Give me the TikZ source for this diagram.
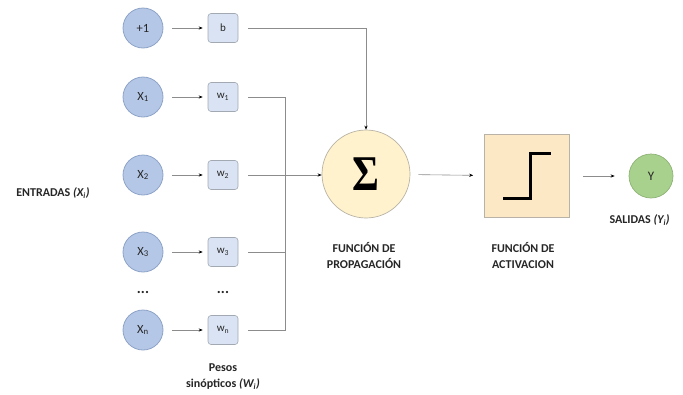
\documentclass[tikz,border=0pt]{standalone}
\usepackage{fontspec}
\setmainfont{Carlito}
\newfontfamily\sigmafont{Liberation Serif}
\usetikzlibrary{arrows.meta}
\definecolor{inblue}{HTML}{B4C7E7}
\definecolor{inedge}{HTML}{8EA3C8}
\definecolor{wfill}{HTML}{DAE3F3}
\definecolor{wedge}{HTML}{A3A9B3}
\definecolor{sumfill}{HTML}{FFF2CC}
\definecolor{actfill}{HTML}{FCE8C4}
\definecolor{warmedge}{HTML}{B8B3A6}
\definecolor{outgreen}{HTML}{A9D18E}
\definecolor{outedge}{HTML}{8CB274}
\definecolor{wire}{HTML}{8C8C8C}
\definecolor{ink}{HTML}{262626}
\tikzset{
  input/.style={circle, draw=inedge, fill=inblue, line width=0.8pt, minimum size=40pt, inner sep=0pt, text=ink, font=\fontsize{12.5}{14}\selectfont},
  weight/.style={rounded corners=3pt, draw=wedge, fill=wfill, line width=0.6pt, minimum width=30pt, minimum height=29pt, inner sep=0pt, text=ink, font=\fontsize{11}{13}\selectfont},
  sumnode/.style={circle, draw=warmedge, fill=sumfill, line width=0.7pt, minimum size=88pt, inner sep=0pt},
  actbox/.style={draw=warmedge, fill=actfill, line width=0.6pt, minimum width=85pt, minimum height=83pt, inner sep=0pt},
  outnode/.style={circle, draw=outedge, fill=outgreen, line width=0.7pt, minimum size=44pt, inner sep=0pt, text=ink, font=\fontsize{13}{15}\selectfont},
  wire/.style={draw=wire, line width=0.6pt},
  arr/.style={wire, -{Stealth[length=4pt, width=3.2pt, black]}},
  stepline/.style={draw=black, line width=3pt},
  lbl/.style={text=ink, font=\bfseries\fontsize{12}{16}\selectfont, align=center},
  dotslbl/.style={text=ink, font=\bfseries\fontsize{15}{15}\selectfont}
}

\begin{document}
\begin{tikzpicture}[x=1pt, y=-1pt]
  \useasboundingbox (0,0) rectangle (683,394);

  % inputs and weights
  \node[input] (one) at (143,28) {+1};
  \node[input] (x1) at (143,97) {X\textsubscript{1}};
  \node[input] (x2) at (143,175) {X\textsubscript{2}};
  \node[input] (x3) at (143,252) {X\textsubscript{3}};
  \node[input] (xn) at (143,330) {X\textsubscript{n}};

  \node[weight] (b) at (223,28) {b};
  \node[weight] (w1) at (223,97) {w\textsubscript{1}};
  \node[weight] (w2) at (223,175) {w\textsubscript{2}};
  \node[weight] (w3) at (223,252) {w\textsubscript{3}};
  \node[weight] (wn) at (223,330) {w\textsubscript{n}};

  \node[dotslbl] (xdots) at (143,292) {...};
  \node[dotslbl] (wdots) at (223,292) {...};

  % summing and activation
  \node[sumnode] (sum) at (366,174) {\sigmafont\bfseries\fontsize{50}{50}\selectfont\scalebox{0.82}[1]{Σ}};
  \node[actbox] (act) at (527,176) {};
  \draw[stepline] (503,198) -| (530,153) -- (551,153);
  \node[outnode] (y) at (651,176) {Y};

  % connectors
  \draw[arr, shorten <=9pt, shorten >=5pt] (one) -- (b);
  \draw[arr, shorten <=9pt, shorten >=5pt] (x1) -- (w1);
  \draw[arr, shorten <=9pt, shorten >=5pt] (x2) -- (w2);
  \draw[arr, shorten <=9pt, shorten >=5pt] (x3) -- (w3);
  \draw[arr, shorten <=9pt, shorten >=5pt] (xn) -- (wn);

  \coordinate (bus1) at (285,97);
  \coordinate (busn) at (285,330);
  \draw[wire] ([xshift=10pt]w1.east) -- (bus1) -- (busn) -- ([xshift=10pt]wn.east);
  \draw[wire] ([xshift=10pt]w3.east) -- (w3 -| bus1);
  \draw[arr] ([xshift=10pt]w2.east) -- (w2 -| sum.west);
  \draw[arr] ([xshift=10pt]b.east) -| (sum.north);
  \draw[arr, shorten <=8pt, shorten >=11pt] (sum) -- (act);
  \draw[arr, shorten <=13pt, shorten >=14pt] (act) -- (y);

  % labels
  \node[lbl] (entradas) at (53,193) {ENTRADAS \textit{(X\textsubscript{i})}};
  \node[lbl] (pesos) at (223,377) {Pesos\\sinópticos \textit{(W\textsubscript{i})}};
  \node[lbl] (prop) at (364,255) {FUNCIÓN DE\\PROPAGACIÓN};
  \node[lbl] (activ) at (523,255) {FUNCIÓN DE\\ACTIVACION};
  \node[lbl, anchor=west] (salidas) at (606,220) {SALIDAS \textit{(Y\textsubscript{i})}};
\end{tikzpicture}
\end{document}
